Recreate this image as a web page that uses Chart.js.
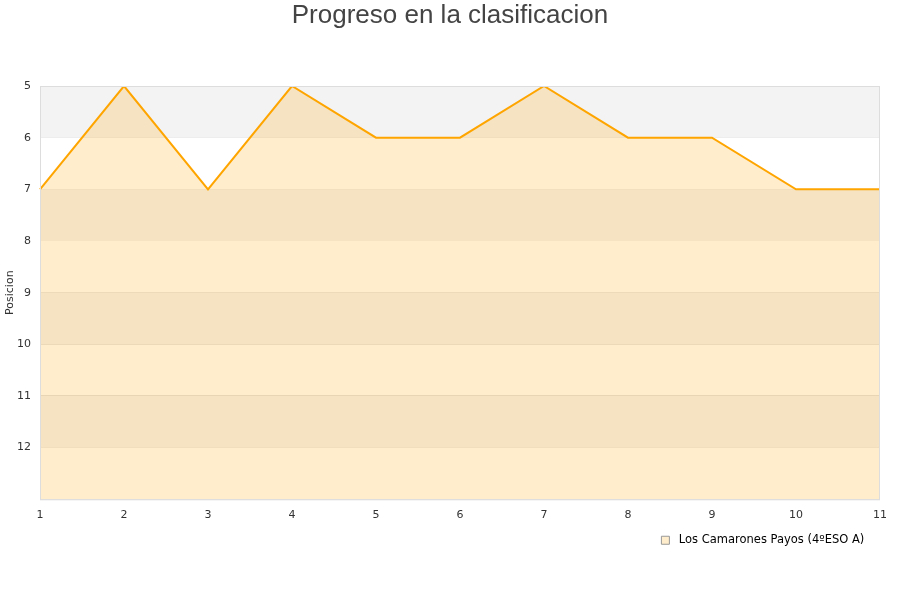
<!DOCTYPE html>
<html>
<head>
<meta charset="utf-8">
<script src="https://cdn.jsdelivr.net/npm/chart.js@4.4.1/dist/chart.umd.min.js"></script>
<style>
  html, body { margin: 0; padding: 0; background: #fff; }
  #wrap { width: 900px; height: 600px; }
</style>
</head>
<body>
<div id="wrap"><canvas id="chart" width="900" height="600"></canvas></div>
<script>
// jornadas y posiciones
var jornadas = ['1', '2', '3', '4', '5', '6', '7', '8', '9', '10', '11'];
var posiciones = [7, 5, 7, 5, 6, 6, 5, 6, 6, 7, 7];
var equipo = 'Los Camarones Payos (4ºESO A)';
var titulo = 'Progreso en la clasificacion';

// alternating grey bands behind the plot, frame and centred title
var bandsPlugin = {
  id: 'bands',
  beforeDatasetsDraw: function (chart) {
    var ctx = chart.ctx;
    var a = chart.chartArea;
    var y = chart.scales.y;
    ctx.save();
    for (var v = 5; v < 13; v += 2) {
      var y1 = y.getPixelForValue(v);
      var y2 = y.getPixelForValue(v + 1);
      ctx.fillStyle = '#f3f3f3';
      ctx.fillRect(a.left, y1, a.right - a.left, y2 - y1);
    }
    ctx.restore();
  },
  afterDatasetsDraw: function (chart) {
    var ctx = chart.ctx;
    var a = chart.chartArea;
    ctx.save();
    ctx.strokeStyle = '#dddddd';
    ctx.lineWidth = 1;
    ctx.strokeRect(a.left + 0.5, a.top + 0.5, a.right - a.left - 1, a.bottom - a.top);
    ctx.restore();
  },
  afterDraw: function (chart) {
    var ctx = chart.ctx;
    ctx.save();
    ctx.fillStyle = '#444444';
    ctx.font = '26px "Liberation Sans"';
    ctx.textAlign = 'center';
    ctx.textBaseline = 'middle';
    ctx.fillText(titulo, chart.width / 2, 16);
    ctx.restore();
  }
};

new Chart(document.getElementById('chart'), {
  type: 'line',
  data: {
    labels: jornadas,
    datasets: [{
      label: equipo,
      data: posiciones,
      borderColor: '#ffa500',
      backgroundColor: 'rgba(255,165,0,0.2)',
      borderWidth: 2,
      pointRadius: 0,
      tension: 0,
      fill: { value: 13 }
    }]
  },
  options: {
    responsive: false,
    animation: false,
    layout: { padding: { left: 0, right: 20, top: 86, bottom: 44 } },
    plugins: {
      title: { display: false },
      legend: {
        position: 'bottom',
        align: 'end',
        labels: {
          color: '#000000',
          font: { family: 'DejaVu Sans', size: 11.5 },
          boxWidth: 8,
          boxHeight: 8,
          padding: 12,
          generateLabels: function (chart) {
            return [{
              text: ' ' + equipo + ' ',
              fillStyle: '#ffedcc',
              strokeStyle: '#999999',
              lineWidth: 1,
              datasetIndex: 0
            }];
          }
        }
      },
      tooltip: { enabled: false }
    },
    scales: {
      x: {
        offset: false,
        grid: { display: false },
        border: { display: false },
        ticks: {
          color: '#333333',
          font: { family: 'DejaVu Sans', size: 11 },
          maxRotation: 0,
          autoSkip: false,
          padding: 1
        }
      },
      y: {
        reverse: true,
        min: 5,
        max: 13,
        grid: { color: '#e2e2e2', drawTicks: false },
        border: { display: false },
        afterFit: function (scale) { scale.width = 40; },
        title: {
          display: true,
          text: 'Posicion',
          color: '#333333',
          font: { family: 'DejaVu Sans', size: 11 },
          padding: { top: 4, bottom: 0 }
        },
        ticks: {
          stepSize: 1,
          color: '#333333',
          font: { family: 'DejaVu Sans', size: 11 },
          padding: 9,
          callback: function (v) { return v === 13 ? '' : v; }
        }
      }
    }
  },
  plugins: [bandsPlugin]
});
</script>
</body>
</html>
